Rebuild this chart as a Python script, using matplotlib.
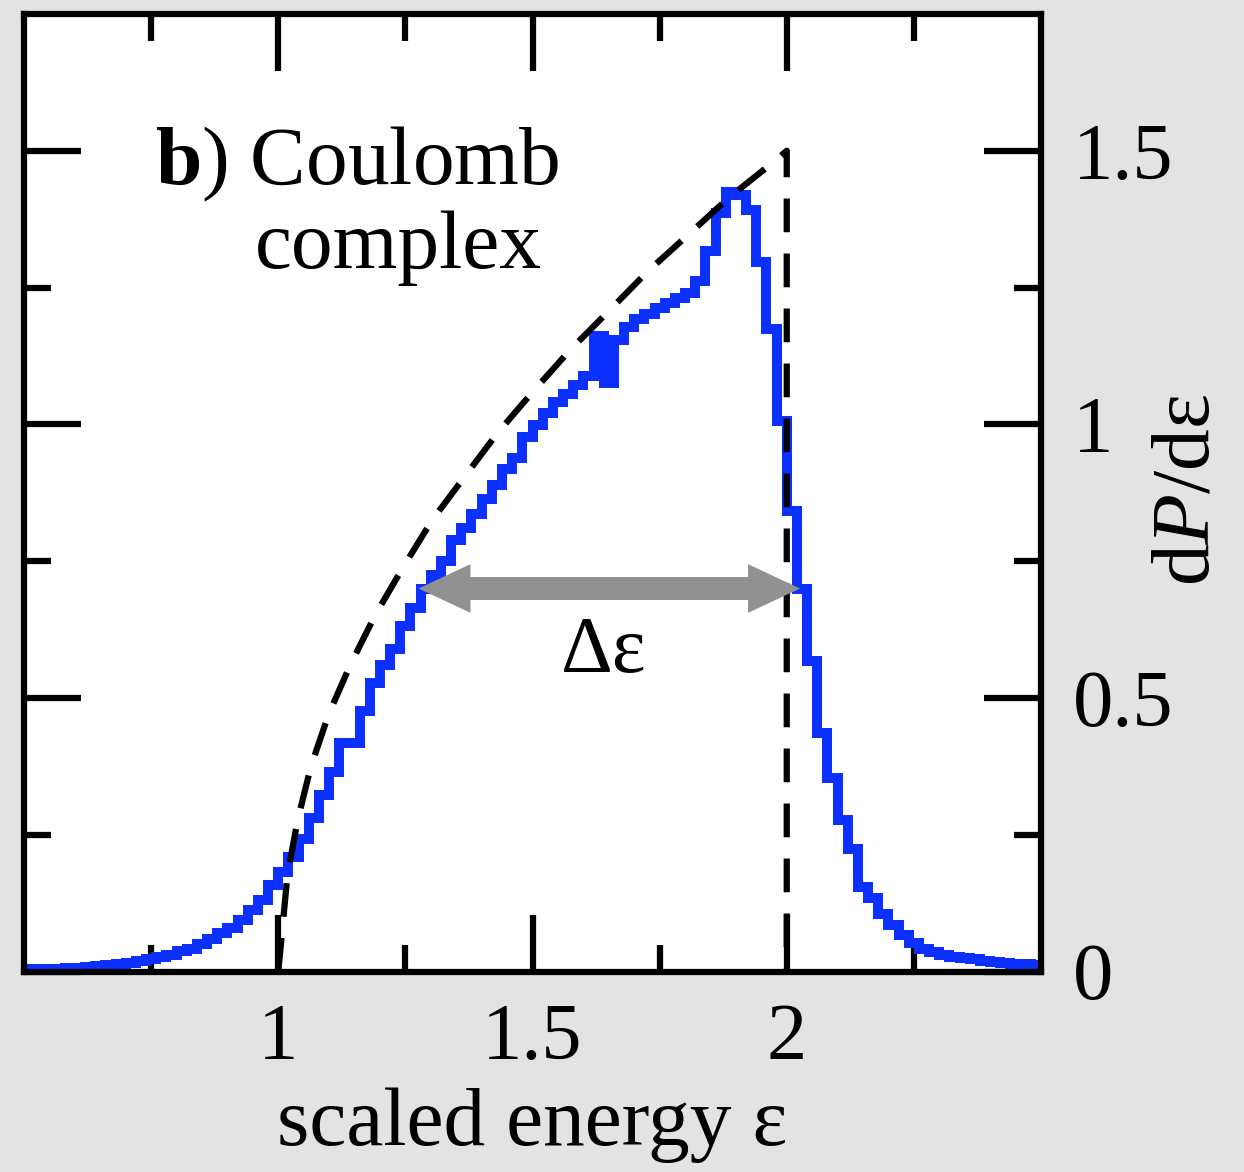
import numpy as np
import matplotlib
matplotlib.use('Agg')
import matplotlib.pyplot as plt
from matplotlib.patches import FancyArrow

plt.rcParams['font.family'] = 'Liberation Serif'
plt.rcParams['mathtext.fontset'] = 'custom'
plt.rcParams['mathtext.rm'] = 'Liberation Serif'
plt.rcParams['mathtext.it'] = 'Liberation Serif:italic'
plt.rcParams['mathtext.bf'] = 'Liberation Serif:bold'

# histogram dP/de, bins of 0.02 starting at 0.5
bin_start = 0.5
bin_width = 0.02
dp_de = [0.004, 0.004, 0.005, 0.005, 0.006, 0.007, 0.008, 0.010, 0.011, 0.014,
         0.016, 0.019, 0.022, 0.026, 0.030, 0.037, 0.042, 0.051, 0.059, 0.070,
         0.079, 0.094, 0.112, 0.131, 0.158, 0.182, 0.209, 0.242, 0.281, 0.322,
         0.364, 0.418, 0.418, 0.477, 0.527, 0.561, 0.589, 0.632, 0.664, 0.699,
         0.725, 0.751, 0.789, 0.810, 0.836, 0.864, 0.889, 0.919, 0.938, 0.976,
         0.998, 1.020, 1.040, 1.055, 1.072, 1.089, 1.161, 1.075, 1.154, 1.178,
         1.192, 1.202, 1.212, 1.222, 1.231, 1.240, 1.262, 1.317, 1.387, 1.425,
         1.420, 1.391, 1.297, 1.174, 1.006, 0.842, 0.699, 0.568, 0.435, 0.353,
         0.276, 0.224, 0.155, 0.134, 0.105, 0.085, 0.066, 0.053, 0.042, 0.035,
         0.031, 0.027, 0.024, 0.022, 0.020, 0.018, 0.016, 0.014, 0.013, 0.012]

# dashed curve
eps_curve = [1.000, 1.006, 1.018, 1.038, 1.064, 1.099, 1.142, 1.191, 1.245,
             1.302, 1.367, 1.431, 1.502, 1.574, 1.651, 1.726, 1.808, 1.887,
             1.972, 2.000, 2.000]
p_curve = [0.000, 0.057, 0.176, 0.276, 0.374, 0.470, 0.561, 0.652, 0.738,
           0.824, 0.905, 0.984, 1.061, 1.136, 1.208, 1.279, 1.348, 1.415,
           1.478, 1.500, 0.000]

# width arrow
half_max = 0.70
fwhm_left = 1.276
fwhm_right = 2.026

xticks = [1, 1.5, 2]
xticklabels = ['1', '1.5', '2']
yticks = [0, 0.5, 1, 1.5]
yticklabels = ['0', '0.5', '1', '1.5']

fig = plt.figure(figsize=(12.44, 11.72), dpi=100, facecolor='#e3e3e3')
ax = fig.add_axes([24 / 1244, 200.5 / 1172, 1017 / 1244, 957.5 / 1172])
ax.set_facecolor('white')

edges = bin_start + bin_width * np.arange(len(dp_de) + 1)
ax.stairs(dp_de, edges, baseline=None, color='#0c30ff', lw=7.2,
          joinstyle='miter', zorder=2)
ax.plot(eps_curve, p_curve, color='black', lw=4.5,
        linestyle=(0, (5.4, 3.4)), zorder=3)

# two arrows starting a bit past the middle so the shafts overlap (no seam)
mid = (fwhm_left + fwhm_right) / 2
for start, end in ((mid + 0.1, fwhm_left), (mid - 0.1, fwhm_right)):
    ax.add_patch(FancyArrow(start, half_max, end - start, 0, width=0.042,
                            head_width=0.089, head_length=0.102,
                            length_includes_head=True, color='#919191',
                            lw=0, zorder=5))

ax.text(1.640, 0.547, 'Δε', fontsize=58, ha='center', va='baseline')
ax.text(0.758, 1.439, r'$\mathbf{b}$) Coulomb', fontsize=60, va='baseline')
ax.text(0.955, 1.286, 'complex', fontsize=60, va='baseline')

ax.set_xlim(0.5, 2.5)
ax.set_ylim(0, 1.75)
ax.set_xticks(xticks)
ax.set_xticklabels(xticklabels)
ax.set_xticks([0.75, 1.25, 1.75, 2.25], minor=True)
ax.set_yticks(yticks)
ax.set_yticklabels(yticklabels)
ax.set_yticks([0.25, 0.75, 1.25], minor=True)

ax.tick_params(which='both', direction='in', top=True, right=True,
               left=True, bottom=True, labelleft=False, labelright=True,
               width=4.5, labelsize=58, pad=23)
ax.tick_params(which='major', length=41)
ax.tick_params(which='minor', length=19.5)
for sp in ax.spines.values():
    sp.set_linewidth(4.5)

ax.set_xlabel('scaled energy ε', fontsize=60, va='baseline')
ax.xaxis.set_label_coords(0.5, -0.1812)
ax.yaxis.set_label_position('right')
ax.set_ylabel(r'$\mathrm{d}P\mathrm{/d}$ε', fontsize=60, rotation=90,
              ha='center', va='center')
ax.yaxis.set_label_coords(1.145, 0.503)

fig.savefig('out.png', dpi=100, facecolor=fig.get_facecolor())
